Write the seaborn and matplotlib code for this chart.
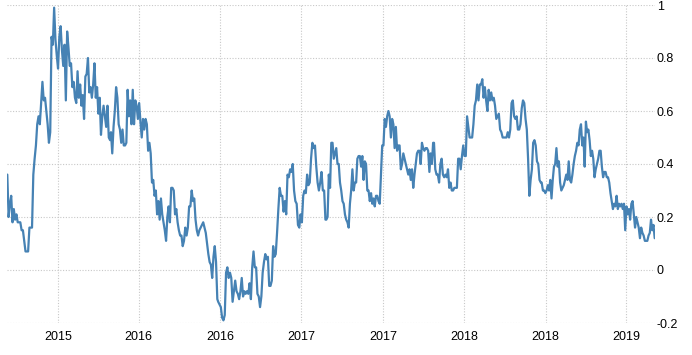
import numpy as np
import pandas as pd
import seaborn as sns
import matplotlib.pyplot as plt

# series, split into consecutive stretches (start date, end date, values)
seg1_dates = ("2014-09-09", "2015-04-28")
seg1_vals = [0.36, 0.20, 0.25, 0.28, 0.18, 0.23, 0.19, 0.21, 0.18, 0.18, 0.18, 0.15, 0.15, 0.11,
             0.07, 0.07, 0.07, 0.16, 0.16, 0.16, 0.36, 0.42, 0.47, 0.55, 0.58, 0.55, 0.63, 0.71,
             0.64, 0.65, 0.60, 0.55, 0.48, 0.52, 0.88, 0.85, 0.99, 0.87, 0.81, 0.76, 0.88, 0.92,
             0.83, 0.77, 0.85, 0.64, 0.90, 0.84, 0.77, 0.78, 0.69, 0.71, 0.65, 0.63, 0.75, 0.65,
             0.70, 0.62, 0.66, 0.57, 0.73, 0.74, 0.80, 0.67, 0.69, 0.65, 0.70, 0.78, 0.65, 0.69,
             0.59, 0.65, 0.51, 0.58, 0.62, 0.58, 0.54, 0.62, 0.50, 0.49]

seg2_dates = ("2015-04-30", "2015-12-25")
seg2_vals = [0.52, 0.44, 0.54, 0.60, 0.69, 0.65, 0.55, 0.53, 0.48, 0.53, 0.47, 0.47, 0.48, 0.68,
             0.58, 0.64, 0.55, 0.68, 0.55, 0.64, 0.62, 0.57, 0.63, 0.56, 0.50, 0.57, 0.53, 0.57,
             0.55, 0.45, 0.48, 0.44, 0.33, 0.34, 0.28, 0.30, 0.21, 0.26, 0.19, 0.27, 0.21, 0.18,
             0.15, 0.11, 0.20, 0.24, 0.18, 0.31, 0.31, 0.30, 0.21, 0.23, 0.18, 0.15, 0.13, 0.13,
             0.09, 0.11, 0.16, 0.13, 0.16, 0.24, 0.24, 0.30, 0.26, 0.27, 0.19, 0.15, 0.13, 0.15,
             0.16, 0.17, 0.18, 0.16, 0.14, 0.10, 0.06, 0.03, 0.02, -0.03, 0.05, 0.09, 0.03, -0.11]

seg3_dates = ("2015-12-27", "2016-08-24")
seg3_vals = [-0.12, -0.13, -0.14, -0.18, -0.19, -0.17, -0.01, 0.01, -0.03, -0.01, -0.03, -0.12,
             -0.08, -0.04, -0.08, -0.09, -0.11, -0.08, -0.03, -0.10, -0.08, -0.09, -0.08, -0.09,
             -0.05, -0.11, 0.01, 0.07, 0.01, 0.01, -0.09, -0.10, -0.14, -0.10, -0.01, 0.03, 0.06,
             0.04, 0.05, -0.06, -0.06, -0.04, 0.09, 0.05, 0.06, 0.14, 0.23, 0.31, 0.28, 0.28, 0.22,
             0.26, 0.21, 0.36, 0.35, 0.38, 0.37, 0.40, 0.30, 0.26, 0.25, 0.17, 0.16, 0.21, 0.18,
             0.28, 0.30, 0.29, 0.36, 0.32, 0.33, 0.42, 0.48, 0.46, 0.47, 0.39, 0.33, 0.30, 0.33,
             0.37, 0.30, 0.30, 0.19]

seg4_dates = ("2016-08-26", "2017-04-23")
seg4_vals = [0.19, 0.20, 0.36, 0.31, 0.48, 0.48, 0.42, 0.44, 0.46, 0.40, 0.40, 0.33, 0.30, 0.26,
             0.25, 0.21, 0.19, 0.18, 0.16, 0.25, 0.30, 0.38, 0.30, 0.33, 0.33, 0.42, 0.43, 0.43,
             0.39, 0.43, 0.34, 0.41, 0.40, 0.30, 0.30, 0.26, 0.29, 0.25, 0.27, 0.24, 0.28, 0.28,
             0.26, 0.25, 0.36, 0.47, 0.47, 0.57, 0.54, 0.58, 0.60, 0.58, 0.50, 0.57, 0.55, 0.46,
             0.54, 0.45, 0.47, 0.47, 0.38, 0.40, 0.44, 0.42, 0.40, 0.38, 0.36, 0.38, 0.34, 0.38,
             0.31, 0.36, 0.40, 0.44, 0.45, 0.45, 0.40, 0.48, 0.46, 0.45, 0.46, 0.46, 0.45, 0.37,
             0.44, 0.40, 0.48]

seg5_dates = ("2017-04-25", "2017-12-21")
seg5_vals = [0.48, 0.38, 0.36, 0.36, 0.33, 0.40, 0.42, 0.36, 0.35, 0.36, 0.35, 0.38, 0.31, 0.33,
             0.30, 0.30, 0.31, 0.31, 0.31, 0.42, 0.42, 0.38, 0.43, 0.47, 0.43, 0.43, 0.58, 0.54,
             0.50, 0.50, 0.50, 0.55, 0.62, 0.64, 0.70, 0.64, 0.70, 0.70, 0.72, 0.65, 0.69, 0.64,
             0.60, 0.68, 0.64, 0.67, 0.64, 0.65, 0.62, 0.57, 0.58, 0.59, 0.53, 0.52, 0.50, 0.50,
             0.50, 0.50, 0.52, 0.50, 0.53, 0.63, 0.64, 0.58, 0.57, 0.58, 0.53, 0.53, 0.55, 0.61,
             0.64, 0.63, 0.57, 0.53, 0.42, 0.28, 0.34, 0.38, 0.48, 0.49, 0.47, 0.41, 0.40, 0.34,
             0.33]

seg6_dates = ("2017-12-23", "2018-09-03")
seg6_vals = [0.33, 0.30, 0.30, 0.29, 0.30, 0.32, 0.30, 0.34, 0.27, 0.34, 0.39, 0.40, 0.46, 0.39,
             0.41, 0.33, 0.30, 0.31, 0.32, 0.34, 0.36, 0.34, 0.41, 0.34, 0.33, 0.36, 0.40, 0.43,
             0.45, 0.48, 0.47, 0.53, 0.55, 0.47, 0.50, 0.39, 0.56, 0.52, 0.53, 0.49, 0.43, 0.45,
             0.42, 0.35, 0.38, 0.40, 0.42, 0.45, 0.45, 0.39, 0.35, 0.37, 0.37, 0.35, 0.35, 0.33,
             0.29, 0.26, 0.23, 0.25, 0.24, 0.28, 0.23, 0.25, 0.24, 0.25, 0.23, 0.25, 0.15, 0.24,
             0.21, 0.23, 0.19, 0.25, 0.26, 0.21, 0.16, 0.20, 0.18, 0.16, 0.12, 0.16, 0.14, 0.13,
             0.11, 0.11, 0.11, 0.13, 0.14, 0.19, 0.15, 0.17, 0.12]

tick_dates = ["2015-01-01", "2015-07-01", "2016-01-01", "2016-07-01",
              "2017-01-01", "2017-07-01", "2018-01-01", "2018-07-01"]
tick_labels = ["2015", "2016", "2016", "2017", "2017", "2018", "2018", "2019"]
y_ticks = [-0.2, 0, 0.2, 0.4, 0.6, 0.8, 1]
y_labels = ["-0.2", "0", "0.2", "0.4", "0.6", "0.8", "1"]

segments = [(seg1_dates, seg1_vals), (seg2_dates, seg2_vals), (seg3_dates, seg3_vals),
            (seg4_dates, seg4_vals), (seg5_dates, seg5_vals), (seg6_dates, seg6_vals)]
parts = []
for (start, end), vals in segments:
    parts.append(pd.DataFrame({"date": pd.date_range(start, end, periods=len(vals)), "value": vals}))
df = pd.concat(parts, ignore_index=True)

sns.set_theme(style="white")
plt.rcParams["font.family"] = ["Liberation Sans", "DejaVu Sans"]

W, H = 692, 355
fig = plt.figure(figsize=(W / 100, H / 100), dpi=100)
ax = fig.add_axes([7.3 / W, 1 - 323 / H, (654.7 - 7.3) / W, (323 - 5) / H])

sns.lineplot(data=df, x="date", y="value", ax=ax, color="#4682b4", linewidth=1.6)

ax.set_xlim(df["date"].iloc[0], df["date"].iloc[-1])
ax.set_ylim(-0.2, 1.0)
ax.set_xticks(pd.to_datetime(tick_dates))
ax.set_xticklabels(tick_labels)
ax.set_yticks(y_ticks)
ax.set_yticklabels(y_labels)
ax.yaxis.tick_right()
ax.tick_params(axis="both", length=0, labelsize=9, colors="#000000")
ax.tick_params(axis="x", pad=5.5)
ax.tick_params(axis="y", pad=1.5)
for lab in ax.get_yticklabels():
    lab.set_horizontalalignment("left")
ax.set_xlabel("")
ax.set_ylabel("")
ax.grid(True, color="#c8c8c8", linewidth=0.8, linestyle=(0, (1, 1.5)))
for s in ax.spines.values():
    s.set_visible(False)

fig.savefig("out.png", dpi=100, facecolor="white")
